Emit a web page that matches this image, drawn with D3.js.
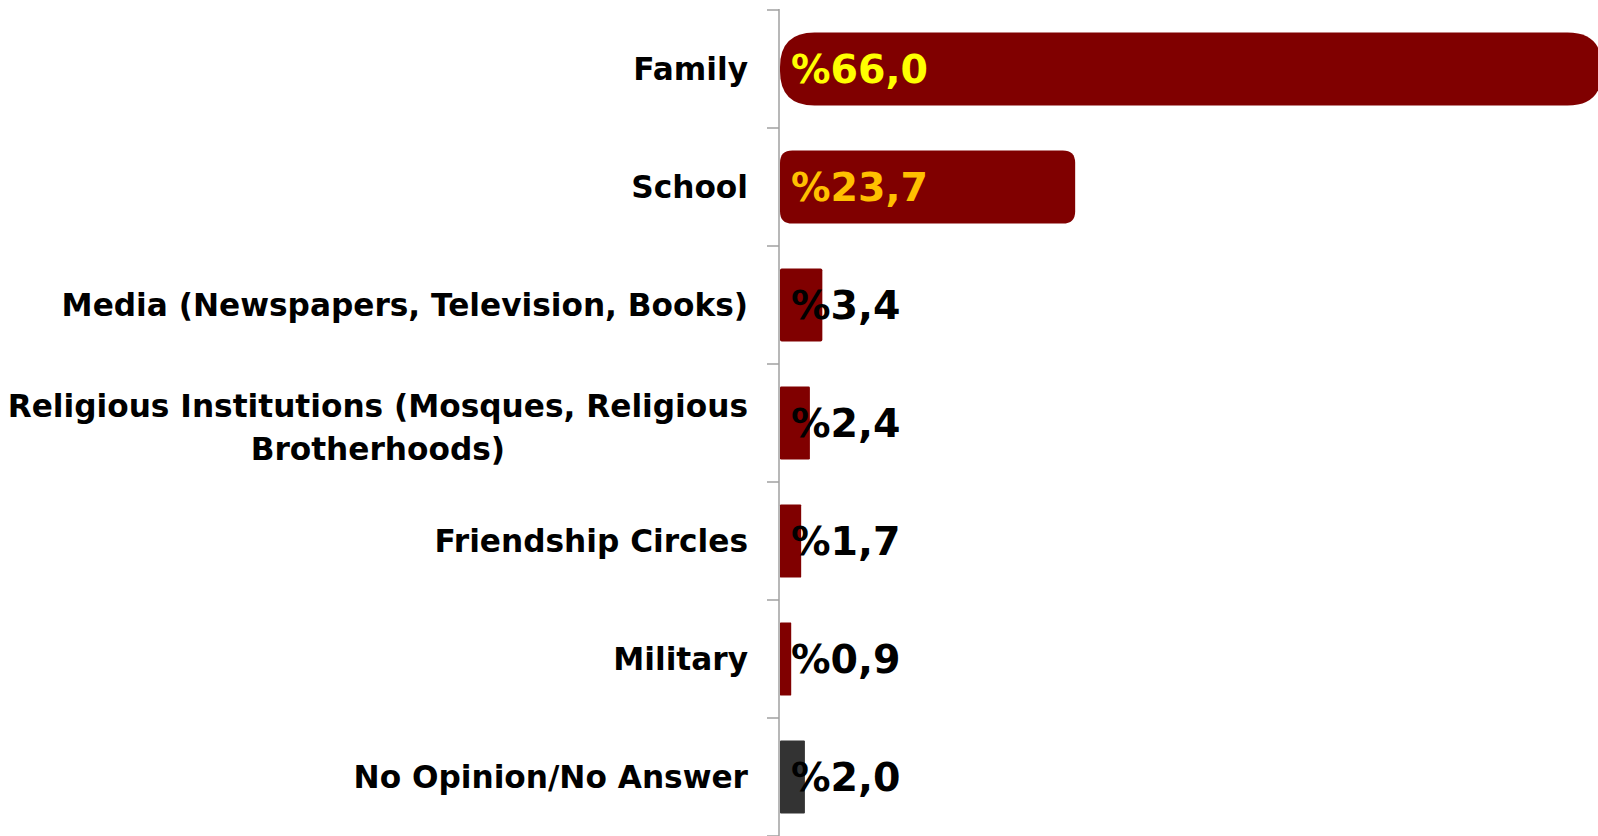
<!DOCTYPE html>
<html>
<head>
<meta charset="utf-8">
<script src="https://cdn.jsdelivr.net/npm/d3@7"></script>
<style>
  html, body { margin: 0; padding: 0; background: #fff; }
  svg { display: block; }
</style>
</head>
<body>
<svg id="chart" width="1598" height="836"></svg>
<script>
// ---- data ----
const categories = [
  "Family",
  "School",
  "Media (Newspapers, Television, Books)",
  "Religious Institutions (Mosques, Religious|Brotherhoods)",
  "Friendship Circles",
  "Military",
  "No Opinion/No Answer"
];
const values = [66.0, 23.7, 3.4, 2.4, 1.7, 0.9, 2.0];
const valueLabels = ["%66,0", "%23,7", "%3,4", "%2,4", "%1,7", "%0,9", "%2,0"];

// ---- drawing ----
const svg = d3.select("#chart");
const W = 1598, H = 836;
const x0 = 779;

const x = d3.scaleLinear().domain([0, 66]).range([x0, 1601]);
const y = d3.scaleBand().domain(categories).range([10, 836]).paddingInner(0.38).paddingOuter(0.19);

const rows = categories.map((c, i) => ({ cat: c, value: values[i], label: valueLabels[i], i }));

function roundedBar(x1, y1, w, h, r) {
  r = Math.min(r, w / 2, h / 2);
  const x2 = x1 + w, y2 = y1 + h;
  return `M${x1 + r},${y1} L${x2 - r},${y1} Q${x2},${y1} ${x2},${y1 + r} L${x2},${y2 - r} Q${x2},${y2} ${x2 - r},${y2} L${x1 + r},${y2} Q${x1},${y2} ${x1},${y2 - r} L${x1},${y1 + r} Q${x1},${y1} ${x1 + r},${y1} Z`;
}

// bars
svg.append("g").selectAll("path")
  .data(rows)
  .join("path")
  .attr("d", d => {
    const w = x(d.value) - x0;
    const r = w * 0.042;
    return roundedBar(x0 + 1, y(d.cat), w, y.bandwidth(), r);
  })
  .attr("fill", d => d.cat === "No Opinion/No Answer" ? "#333333" : "#800000");

// axis (vertical line with ticks at band boundaries)
const step = y.step();
const boundaries = d3.range(categories.length + 1).map(k => y.range()[0] + k * step);
const axisG = svg.append("g");
axisG.append("line")
  .attr("x1", x0).attr("x2", x0)
  .attr("y1", boundaries[0] - 1).attr("y2", H)
  .attr("stroke", "#a0a0a0").attr("stroke-width", 1.5);
axisG.selectAll("line.tick")
  .data(boundaries)
  .join("line")
  .attr("class", "tick")
  .attr("x1", x0 - 12).attr("x2", x0)
  .attr("y1", d => d).attr("y2", d => d)
  .attr("stroke", "#a0a0a0").attr("stroke-width", 1.5);

// category labels
const labelRight = 748;
const catFont = 31.2;
const lineH = 43;
const catG = svg.append("g")
  .attr("font-family", "'DejaVu Sans', Verdana, sans-serif")
  .attr("font-weight", "bold")
  .attr("font-size", catFont)
  .attr("fill", "#000");

rows.forEach(d => {
  const lines = d.cat.split("|");
  const cy = y(d.cat) + y.bandwidth() / 2;
  const t = catG.append("text");
  if (lines.length === 1) {
    t.attr("x", labelRight).attr("y", cy).attr("dy", "0.36em")
      .attr("text-anchor", "end").text(lines[0]);
  } else {
    const spans = lines.map((ln, k) =>
      t.append("tspan").attr("y", cy + (k - (lines.length - 1) / 2) * lineH + 4).attr("dy", "0.36em").text(ln));
    const maxW = d3.max(spans, s => s.node().getComputedTextLength());
    const cx = labelRight - maxW / 2;
    spans.forEach(s => s.attr("x", cx));
    t.attr("text-anchor", "middle");
  }
});

// value labels
const labelColors = d => d.i === 0 ? "#FFFF00" : (d.i === 1 ? "#FFC000" : "#000000");
svg.append("g")
  .attr("font-family", "'DejaVu Sans', Verdana, sans-serif")
  .attr("font-weight", "bold")
  .attr("font-size", 39.5)
  .selectAll("text")
  .data(rows)
  .join("text")
  .attr("x", x0 + 12)
  .attr("y", d => y(d.cat) + y.bandwidth() / 2)
  .attr("dy", "0.36em")
  .attr("fill", labelColors)
  .text(d => d.label);
</script>
</body>
</html>
